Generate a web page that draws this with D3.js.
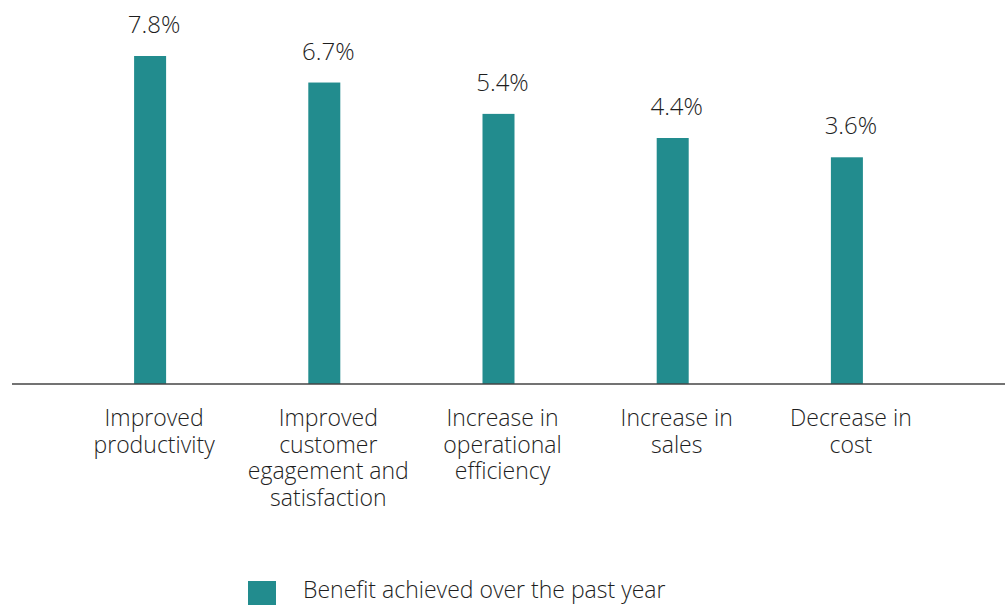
<!DOCTYPE html>
<html>
<head>
	<meta charset="utf-8">
	<script src="https://d3js.org/d3.v7.min.js"></script>
	<title>Benefit achieved</title>
	<style>
		body { margin: 0; background: #fff; }
		text { font-family: "Open Sans", "Noto Sans", sans-serif; font-weight: 300; fill: #1e1e1e; }
	</style>
</head>
<body>
	<div id="chart"></div>

	<script type="text/javascript">

		// categories (each split into lines) and values in percent
		var categories = ["Improved productivity", "Improved customer egagement and satisfaction",
			"Increase in operational efficiency", "Increase in sales", "Decrease in cost"];
		var labelLines = [
			["Improved", "productivity"],
			["Improved", "customer", "egagement and", "satisfaction"],
			["Increase in", "operational", "efficiency"],
			["Increase in", "sales"],
			["Decrease in", "cost"]
		];
		var values = [7.8, 6.7, 5.4, 4.4, 3.6];
		var seriesName = "Benefit achieved over the past year";

		var width = 1005, height = 605;
		var barColor = "#228c8e";
		var barWidth = 32;

		var svg = d3.select("#chart").append("svg")
			.attr("width", width)
			.attr("height", height);

		var xScale = d3.scalePoint()
			.domain(categories)
			.range([63, 934])
			.padding(0.5);

		// the value axis of the original does not start at zero
		var yScale = d3.scaleLinear()
			.domain([-5.8, 7.8])
			.range([384, 56]);

		var data = categories.map(function(c, i){
			return { name: c, value: values[i], lines: labelLines[i] };
		});

		svg.selectAll("rect.bar")
			.data(data).enter().append("rect")
			.attr("class", "bar")
			.attr("x", function(d){ return xScale(d.name) - barWidth/2; })
			.attr("y", function(d){ return yScale(d.value); })
			.attr("width", barWidth)
			.attr("height", function(d){ return yScale.range()[0] - yScale(d.value); })
			.attr("fill", barColor);

		// value labels
		svg.selectAll("text.val")
			.data(data).enter().append("text")
			.attr("class", "val")
			.attr("x", function(d){ return xScale(d.name) + 4; })
			.attr("y", function(d){ return yScale(d.value) - 23; })
			.attr("text-anchor", "middle")
			.attr("font-size", 24)
			.text(function(d){ return d.value.toFixed(1) + "%"; });

		// baseline
		svg.append("line")
			.attr("x1", 12).attr("x2", width)
			.attr("y1", yScale.range()[0]).attr("y2", yScale.range()[0])
			.attr("stroke", "#444")
			.attr("stroke-width", 1.5);

		// category labels
		var lab = svg.selectAll("text.cat")
			.data(data).enter().append("text")
			.attr("class", "cat")
			.attr("text-anchor", "middle")
			.attr("font-size", 23)
			.attr("transform", function(d){ return "translate(" + (xScale(d.name) + 4) + ",426)"; });

		lab.selectAll("tspan")
			.data(function(d){ return d.lines; }).enter().append("tspan")
			.attr("x", 0)
			.attr("y", function(d, i){ return i * 26.5; })
			.text(function(d){ return d; });

		// legend
		svg.append("rect")
			.attr("x", 248).attr("y", 581)
			.attr("width", 28).attr("height", 28)
			.attr("fill", barColor);

		svg.append("text")
			.attr("x", 303).attr("y", 598)
			.attr("font-size", 23)
			.text(seriesName);

	</script>
</body>
</html>
